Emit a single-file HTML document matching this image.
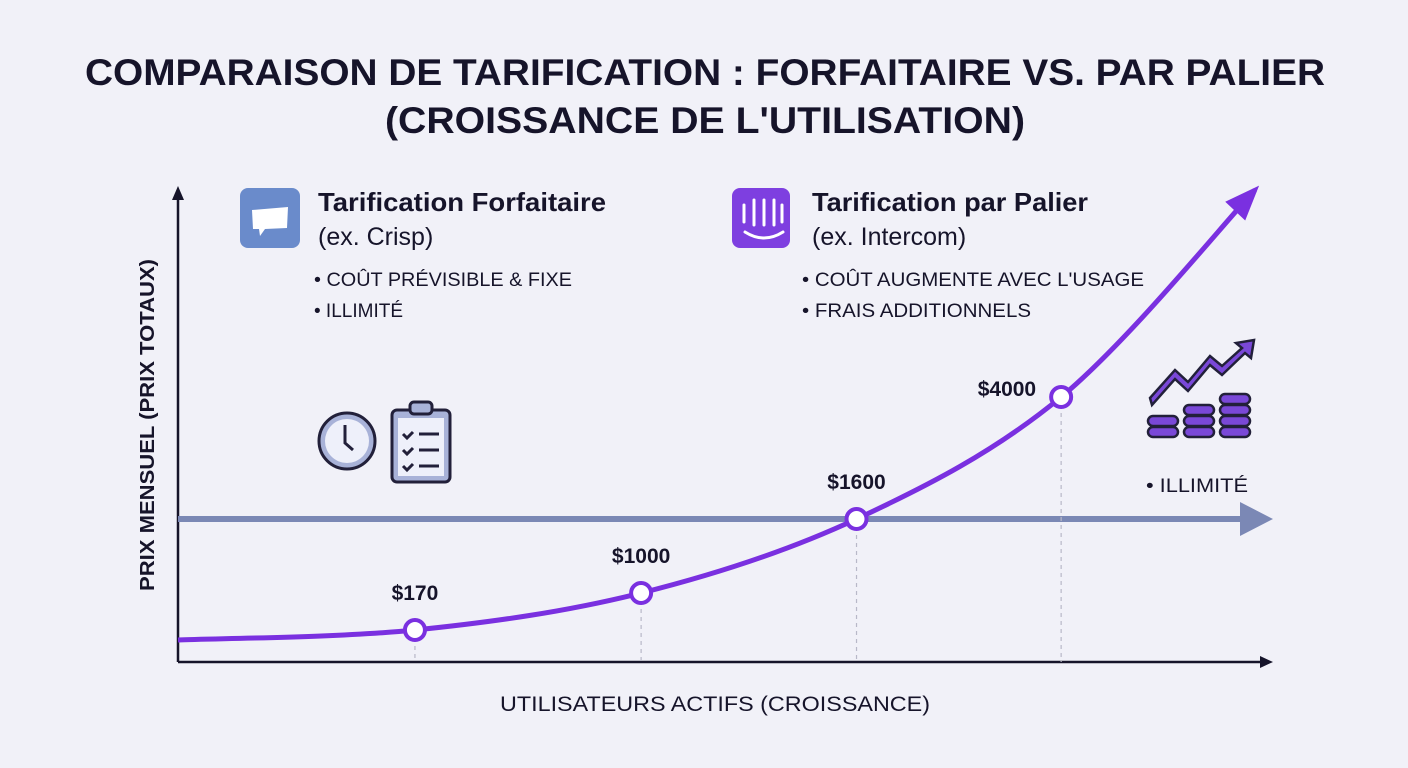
<!DOCTYPE html>
<html><head><meta charset="utf-8"><style>
body{margin:0;background:#f1f1f8;}
svg{display:block;font-family:"Liberation Sans",sans-serif;}
</style></head><body>
<svg id="chart" width="1408" height="768" viewBox="0 0 1408 768">
<rect width="1408" height="768" fill="#f1f1f8"/>
<g fill="#16142a" font-weight="bold" font-size="37" text-anchor="middle">
<text x="705" y="85" textLength="1240" lengthAdjust="spacingAndGlyphs">COMPARAISON DE TARIFICATION : FORFAITAIRE VS. PAR PALIER</text>
<text x="705" y="133" textLength="640" lengthAdjust="spacingAndGlyphs">(CROISSANCE DE L'UTILISATION)</text>
</g>
<g stroke="#16142a" stroke-width="2.5" fill="#16142a">
<line x1="178" y1="662" x2="178" y2="198"/><polygon points="172,200 184,200 178,186" stroke="none"/>
<line x1="178" y1="662" x2="1262" y2="662"/><polygon points="1260,656 1260,668 1273,662" stroke="none"/>
</g>
<text transform="translate(154,425) rotate(-90)" text-anchor="middle" font-size="20" font-weight="bold" fill="#16142a" textLength="332" lengthAdjust="spacingAndGlyphs">PRIX MENSUEL (PRIX TOTAUX)</text>
<text x="715" y="711" text-anchor="middle" font-size="21" fill="#16142a" textLength="430" lengthAdjust="spacingAndGlyphs">UTILISATEURS ACTIFS (CROISSANCE)</text>
<g id="flat">
<line x1="178" y1="519" x2="1242" y2="519" stroke="#7b88b5" stroke-width="6"/>
<polygon points="1240,502 1240,536 1273,519" fill="#7b88b5"/>
</g>
<g id="marks"></g>
<g>
<rect x="240" y="188" width="60" height="60" rx="8" fill="#6a8bcb"/>
<path d="M252 210 L288 207 L287 228 L265 229 L260 236 L259 229 L253 229 Z" fill="#fff"/>
<text x="318" y="211" font-size="26" font-weight="bold" fill="#16142a" textLength="288" lengthAdjust="spacingAndGlyphs">Tarification Forfaitaire</text>
<text x="318" y="245" font-size="25" fill="#16142a">(ex. Crisp)</text>
<text x="314" y="286" font-size="19" fill="#16142a" textLength="258" lengthAdjust="spacingAndGlyphs">• COÛT PRÉVISIBLE &amp; FIXE</text>
<text x="314" y="317" font-size="19" fill="#16142a">• ILLIMITÉ</text>
</g>
<g stroke="#22203a" stroke-width="3" fill="none">
<circle cx="347" cy="441" r="28" fill="#a8b2d8"/><circle cx="347" cy="441" r="22" fill="#eef0fa" stroke="none"/>
<polyline points="345,425 345,443 353,450"/>
</g>
<g stroke="#22203a" stroke-width="3" fill="none">
<rect x="392" y="410" width="58" height="72" rx="5" fill="#a8b2d8"/>
<rect x="398" y="418" width="46" height="58" fill="#eef0fa" stroke="none"/>
<rect x="410" y="402" width="22" height="12" rx="4" fill="#a8b2d8"/>
<path d="M403 434l4 4 6-6M403 450l4 4 6-6M403 466l4 4 6-6M419 434h20M419 450h20M419 466h20"/>
</g>
<g>
<rect x="732" y="188" width="58" height="60" rx="8" fill="#7e3fe0"/>
<path d="M744 205v17M754 200v25M764 200v25M774 200v25M782 205v17M745 232q19 12 38 0" stroke="#fff" stroke-width="3" fill="none" stroke-linecap="round"/>
<text x="812" y="211" font-size="26" font-weight="bold" fill="#16142a" textLength="276" lengthAdjust="spacingAndGlyphs">Tarification par Palier</text>
<text x="812" y="245" font-size="25" fill="#16142a">(ex. Intercom)</text>
<text x="802" y="286" font-size="19" fill="#16142a" textLength="342" lengthAdjust="spacingAndGlyphs">• COÛT AUGMENTE AVEC L'USAGE</text>
<text x="802" y="317" font-size="19" fill="#16142a" textLength="229" lengthAdjust="spacingAndGlyphs">• FRAIS ADDITIONNELS</text>
</g>
<g stroke="#22203a" stroke-width="2.5" fill="#7a48d8">
<path d="M1150 398l25-28 13 12 22-26 12 10 20-18-6-5 18-3-3 18-6-5-23 22-12-10-22 26-13-12-23 26z"/>
<g id="coins"></g>
</g>
<text x="1146" y="492" font-size="19" fill="#16142a" textLength="102" lengthAdjust="spacingAndGlyphs">• ILLIMITÉ</text>
</svg>
<script>
var users=[1.1,2.15,3.15,4.1];
var prices=[170,1000,1600,4000];
var labels=["$170","$1000","$1600","$4000"];
var curveStart=[0,85];
var curveEnd=[5,9000];
function xs(u){return 178+u*(1255-178)/5;}
var yDom=[0,170,1000,1600,4000,9000];
var yRng=[650,630,593,519,397,190];
function ys(v){for(var i=1;i<yDom.length;i++){if(v<=yDom[i]||i==yDom.length-1){var t=(v-yDom[i-1])/(yDom[i]-yDom[i-1]);return yRng[i-1]+t*(yRng[i]-yRng[i-1]);}}}
var NS="http://www.w3.org/2000/svg";
var g=document.getElementById('marks');
var pts=[[xs(curveStart[0]),ys(curveStart[1])]];
for(var i=0;i<users.length;i++)pts.push([xs(users[i]),ys(prices[i])]);
pts.push([xs(curveEnd[0]),ys(curveEnd[1])]);
for(var i=0;i<users.length;i++){
 var l=document.createElementNS(NS,'line');
 
 
 l.setAttribute('x1',xs(users[i]));l.setAttribute('x2',xs(users[i]));
 l.setAttribute('y1',ys(prices[i]));l.setAttribute('y2',662);
 l.setAttribute('stroke','#b8b8c8');l.setAttribute('stroke-dasharray','4 4');l.setAttribute('stroke-width','1.2');
 g.appendChild(l);
}
var d='M'+pts[0][0]+' '+pts[0][1];
for(var i=0;i<pts.length-1;i++){
 var p0=pts[Math.max(0,i-1)],p1=pts[i],p2=pts[i+1],p3=pts[Math.min(pts.length-1,i+2)];
 var c1=[p1[0]+(p2[0]-p0[0])/6,p1[1]+(p2[1]-p0[1])/6];
 var c2=[p2[0]-(p3[0]-p1[0])/6,p2[1]-(p3[1]-p1[1])/6];
 d+=' C'+c1[0]+' '+c1[1]+' '+c2[0]+' '+c2[1]+' '+p2[0]+' '+p2[1];
}
var path=document.createElementNS(NS,'path');


path.setAttribute('d',d);path.setAttribute('fill','none');path.setAttribute('stroke','#7a30e0');path.setAttribute('stroke-width','5');
g.appendChild(path);
var e=pts[pts.length-1],pe=pts[pts.length-2];
var ang=Math.atan2(e[1]-pe[1],e[0]-pe[0]);
var ah=document.createElementNS(NS,'polygon');


var a1=ang+2.7,a2=ang-2.7;
ah.setAttribute('points',(e[0]+6*Math.cos(ang))+','+(e[1]+6*Math.sin(ang))+' '+(e[0]+32*Math.cos(a1))+','+(e[1]+32*Math.sin(a1))+' '+(e[0]+32*Math.cos(a2))+','+(e[1]+32*Math.sin(a2)));
ah.setAttribute('fill','#7a30e0');
g.appendChild(ah);
for(var i=0;i<users.length;i++){
 var c=document.createElementNS(NS,'circle');
 
 
 c.setAttribute('cx',xs(users[i]));c.setAttribute('cy',ys(prices[i]));c.setAttribute('r',10);
 c.setAttribute('fill','#fff');c.setAttribute('stroke','#7a30e0');c.setAttribute('stroke-width','4');
 g.appendChild(c);
 var t=document.createElementNS(NS,'text');
 
 
 var lx=i==3?xs(users[i])-25:xs(users[i]);
 t.setAttribute('x',lx);t.setAttribute('y',ys(prices[i])-(i==3?1:30));
 t.setAttribute('text-anchor',i==3?'end':'middle');
 t.setAttribute('font-size','21');t.setAttribute('font-weight','bold');t.setAttribute('fill','#16142a');
 t.textContent=labels[i];
 g.appendChild(t);
}
var cg=document.getElementById('coins');
var stacks=[[1163,2],[1199,3],[1235,4]];
stacks.forEach(function(s){
 for(var k=s[1]-1;k>=0;k--){
  var y=432-k*11;
  var r=document.createElementNS(NS,'rect');
  
  
  r.setAttribute('x',s[0]-15);r.setAttribute('y',y-5);r.setAttribute('width',30);r.setAttribute('height',10);r.setAttribute('rx',5);
  cg.appendChild(r);
 }
});
</script>
</body></html>
